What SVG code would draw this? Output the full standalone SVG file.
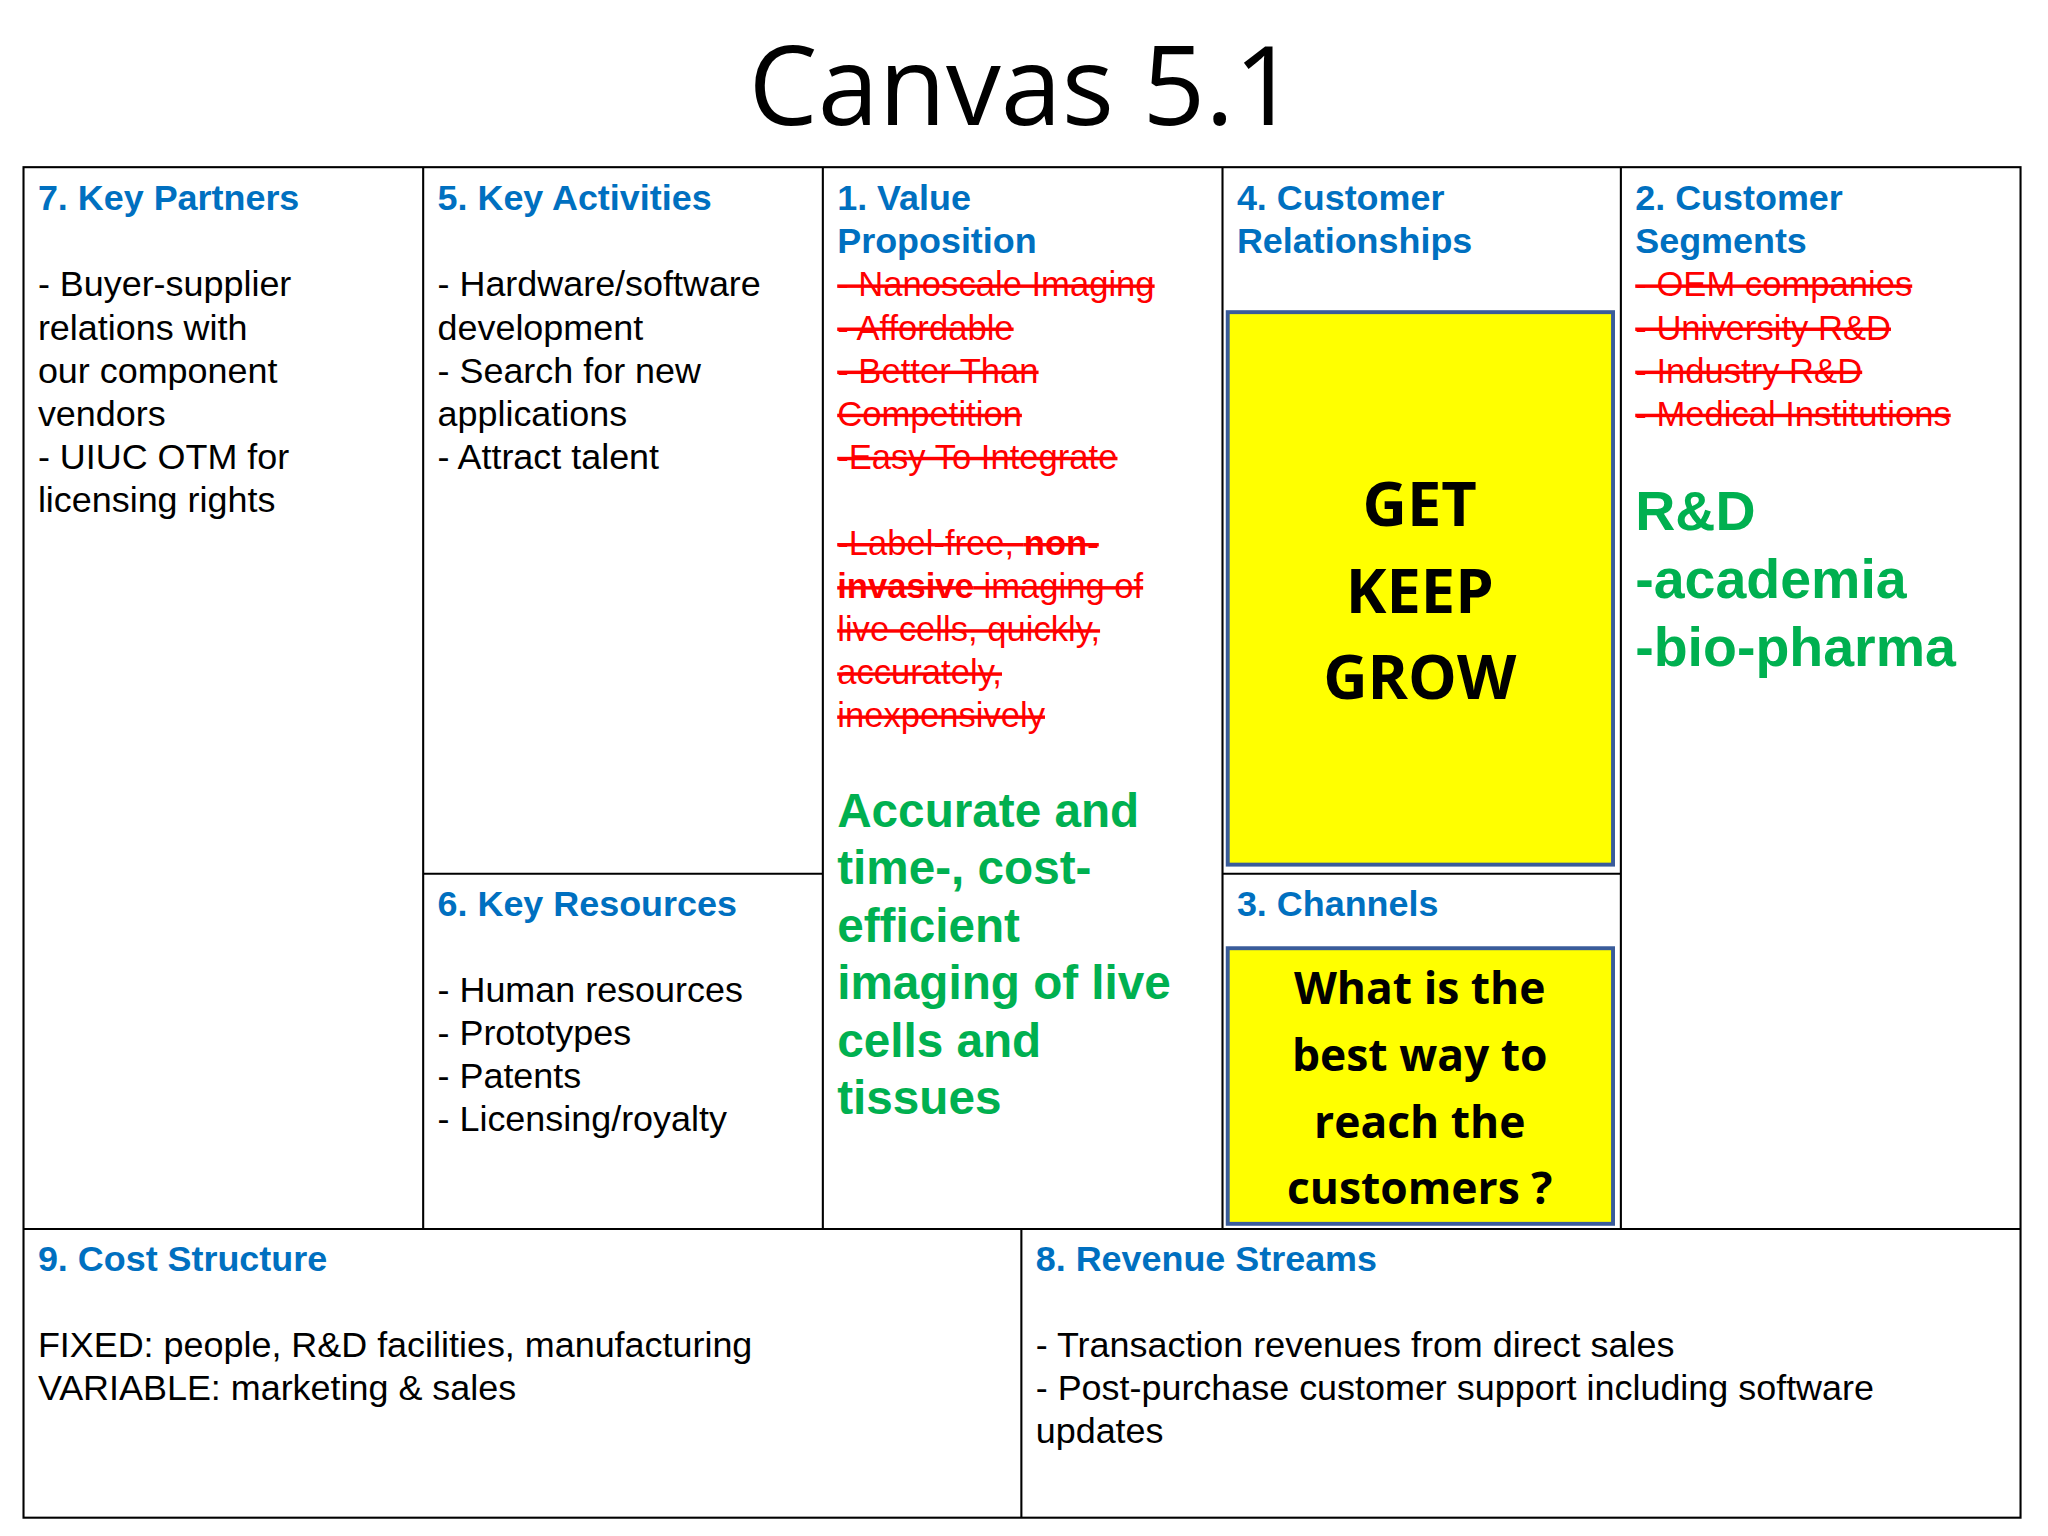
<svg xmlns="http://www.w3.org/2000/svg" width="2048" height="1536" viewBox="0 0 2048 1536">
<style>
text{font-family:"Liberation Sans",Arial,sans-serif}
.h{font-weight:bold;fill:#0070C0;font-size:27.5px}
.b{fill:#000;font-size:27.5px}
.r{fill:#FF0000;font-size:26.5px;text-decoration:line-through}
.g{fill:#00B050;font-weight:bold;font-size:36.5px}
.gl{fill:#00B050;font-weight:bold;font-size:42.5px}
.k{font-family:"Open Sans","Liberation Sans",sans-serif;font-weight:bold;fill:#000;text-anchor:middle}
.ln{stroke:#000;stroke-width:1.6;fill:none}
.y{fill:#FFFF00;stroke:#3A5C9A;stroke-width:3}
</style>
<rect width="2048" height="1536" fill="#fff"/>
<g transform="scale(1.3061)">
<text x="783" y="96" text-anchor="middle" style="font-family:'Open Sans','Liberation Sans',sans-serif;font-size:84px">Canvas 5.1</text>
<g id="connectors">
<rect class="ln" x="18" y="128" width="1529" height="1034"/>
<path class="ln" d="M324 128V941M630 128V941M936 128V941M1241 128V941M18 941H1547M782 941V1162M324 669H630M936 669H1241"/>
</g>
<g id="partners">
<text class="h" x="29" y="161">7. Key Partners</text>
<text class="b" x="29" y="227">- Buyer-supplier</text>
<text class="b" x="29" y="260">relations with</text>
<text class="b" x="29" y="293">our component</text>
<text class="b" x="29" y="326">vendors</text>
<text class="b" x="29" y="359">- UIUC OTM for</text>
<text class="b" x="29" y="392">licensing rights</text>
</g>
<g id="activities">
<text class="h" x="335" y="161">5. Key Activities</text>
<text class="b" x="335" y="227">- Hardware/software</text>
<text class="b" x="335" y="260">development</text>
<text class="b" x="335" y="293">- Search for new</text>
<text class="b" x="335" y="326">applications</text>
<text class="b" x="335" y="359">- Attract talent</text>
</g>
<g id="resources">
<text class="h" x="335" y="701">6. Key Resources</text>
<text class="b" x="335" y="767">- Human resources</text>
<text class="b" x="335" y="800">- Prototypes</text>
<text class="b" x="335" y="833">- Patents</text>
<text class="b" x="335" y="866">- Licensing/royalty</text>
</g>
<g id="value">
<text class="h" x="641" y="161">1. Value</text>
<text class="h" x="641" y="194">Proposition</text>
<text class="r" x="641" y="227">- Nanoscale Imaging</text>
<text class="r" x="641" y="260">- Affordable</text>
<text class="r" x="641" y="293">- Better Than</text>
<text class="r" x="641" y="326">Competition</text>
<text class="r" x="641" y="359">-Easy To Integrate</text>
<text class="r" x="641" y="425">-Label-free, <tspan font-weight="bold">non-</tspan></text>
<text class="r" x="641" y="458"><tspan font-weight="bold">invasive</tspan> imaging of</text>
<text class="r" x="641" y="491">live cells, quickly,</text>
<text class="r" x="641" y="524">accurately,</text>
<text class="r" x="641" y="557">inexpensively</text>
<text class="g" x="641" y="633">Accurate and</text>
<text class="g" x="641" y="677">time-, cost-</text>
<text class="g" x="641" y="721">efficient</text>
<text class="g" x="641" y="765">imaging of live</text>
<text class="g" x="641" y="809">cells and</text>
<text class="g" x="641" y="853">tissues</text>
</g>
<g id="relationships">
<text class="h" x="947" y="161">4. Customer</text>
<text class="h" x="947" y="194">Relationships</text>
<rect class="y" x="940" y="239" width="295" height="423"/>
<text class="k" x="1087" y="403" font-size="47">GET</text>
<text class="k" x="1087" y="469" font-size="47">KEEP</text>
<text class="k" x="1087" y="535" font-size="47">GROW</text>
</g>
<g id="channels">
<text class="h" x="947" y="701">3. Channels</text>
<rect class="y" x="940" y="726" width="295" height="211"/>
<text class="k" x="1087" y="769" font-size="34">What is the</text>
<text class="k" x="1087" y="820" font-size="34">best way to</text>
<text class="k" x="1087" y="871" font-size="34">reach the</text>
<text class="k" x="1087" y="922" font-size="34">customers ?</text>
</g>
<g id="segments">
<text class="h" x="1252" y="161">2. Customer</text>
<text class="h" x="1252" y="194">Segments</text>
<text class="r" x="1252" y="227">- OEM companies</text>
<text class="r" x="1252" y="260">- University R&amp;D</text>
<text class="r" x="1252" y="293">- Industry R&amp;D</text>
<text class="r" x="1252" y="326">- Medical Institutions</text>
<text class="gl" x="1252" y="406">R&amp;D</text>
<text class="gl" x="1252" y="458">-academia</text>
<text class="gl" x="1252" y="510">-bio-pharma</text>
</g>
<g id="cost">
<text class="h" x="29" y="973">9. Cost Structure</text>
<text class="b" x="29" y="1039">FIXED: people, R&amp;D facilities, manufacturing</text>
<text class="b" x="29" y="1072">VARIABLE: marketing &amp; sales</text>
</g>
<g id="revenue">
<text class="h" x="793" y="973">8. Revenue Streams</text>
<text class="b" x="793" y="1039">- Transaction revenues from direct sales</text>
<text class="b" x="793" y="1072">- Post-purchase customer support including software</text>
<text class="b" x="793" y="1105">updates</text>
</g>
</g>
</svg>
